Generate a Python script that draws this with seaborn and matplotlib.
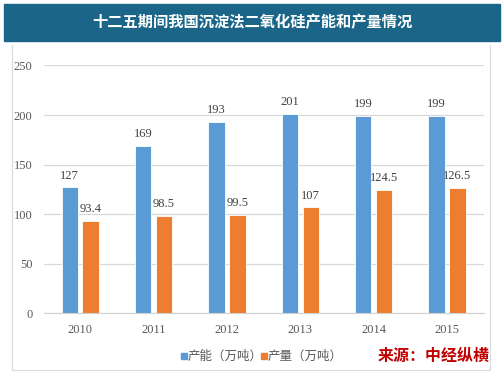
import pandas as pd
import numpy as np
import matplotlib.pyplot as plt
import seaborn as sns

years = ['2010', '2011', '2012', '2013', '2014', '2015']
capacity = [127, 169, 193, 201, 199, 199]
output = [93.4, 98.5, 99.5, 107, 124.5, 126.5]
cap_labels = ['127', '169', '193', '201', '199', '199']
out_labels = ['93.4', '98.5', '99.5', '107', '124.5', '126.5']
series_names = ['产能（万吨）', '产量（万吨）']

df = pd.DataFrame({
    'year': years * 2,
    'value': capacity + output,
    'series': [series_names[0]] * len(years) + [series_names[1]] * len(years),
})

sns.set_style('white')
cjk = ['Noto Sans CJK SC', 'DejaVu Sans']
serif = ['Liberation Serif', 'DejaVu Serif']

fig = plt.figure(figsize=(5.03, 3.75), dpi=100)
ax = fig.add_axes([0.0865, 0.1645, 0.875, 0.661])

sns.barplot(data=df, x='year', y='value', hue='series', ax=ax,
            palette=['#5b9bd5', '#ed7d31'], saturation=1, width=0.57, gap=0.22,
            edgecolor='white', linewidth=0.6, legend=False)

# value labels
for cont, labs in zip(ax.containers, [cap_labels, out_labels]):
    ax.bar_label(cont, labels=labs, padding=4, fontsize=9,
                 family=serif, color='#404040')

ax.set_ylim(0, 250)
ax.set_xlim(-0.5, 5.5)
ax.set_yticks(range(0, 251, 50))
ax.yaxis.grid(True, color='#d9d9d9', linewidth=0.9)
ax.set_axisbelow(True)
for s in ['top', 'right', 'left']:
    ax.spines[s].set_visible(False)
ax.spines['bottom'].set_color('#d0d0d0')
ax.set_xlabel('')
ax.set_ylabel('')
ax.tick_params(length=0, pad=8, labelsize=9, labelcolor='#595959')
for t in ax.get_xticklabels() + ax.get_yticklabels():
    t.set_family(serif)

# title band
fig.patches.append(plt.Rectangle((4 / 503, 1 - 40.7 / 375), 496 / 503, 36.7 / 375,
                                 transform=fig.transFigure, color='#1b6688', zorder=0))
fig.text(252 / 503, 1 - 22 / 375, '十二五期间我国沉淀法二氧化硅产能和产量情况',
         ha='center', va='center', color='white', fontsize=11,
         fontweight='bold', family=cjk)

# light frame
frame = dict(transform=fig.transFigure, color='#dcdcdc', linewidth=0.9)
fig.add_artist(plt.Line2D([12 / 503, 12 / 503], [1 - 45 / 375, 1 - 370 / 375], **frame))
fig.add_artist(plt.Line2D([490 / 503, 490 / 503], [1 - 45 / 375, 1 - 370 / 375], **frame))
fig.add_artist(plt.Line2D([12 / 503, 490 / 503], [1 - 370 / 375, 1 - 370 / 375], **frame))

# legend
for x0, name, col in [(181, series_names[0], '#5b9bd5'), (261, series_names[1], '#ed7d31')]:
    fig.patches.append(plt.Rectangle((x0 / 503, 1 - 359 / 375), 6 / 503, 6 / 375,
                                     transform=fig.transFigure, color=col))
    fig.text((x0 + 7) / 503, 1 - 356 / 375, name, ha='left', va='center',
             fontsize=9, color='#595959', family=cjk)

fig.text(490 / 503, 1 - 356 / 375, '来源：中经纵横', ha='right', va='center',
         fontsize=11.5, fontweight='bold', color='#c00000', family=cjk)

fig.savefig('out.png', dpi=100)
